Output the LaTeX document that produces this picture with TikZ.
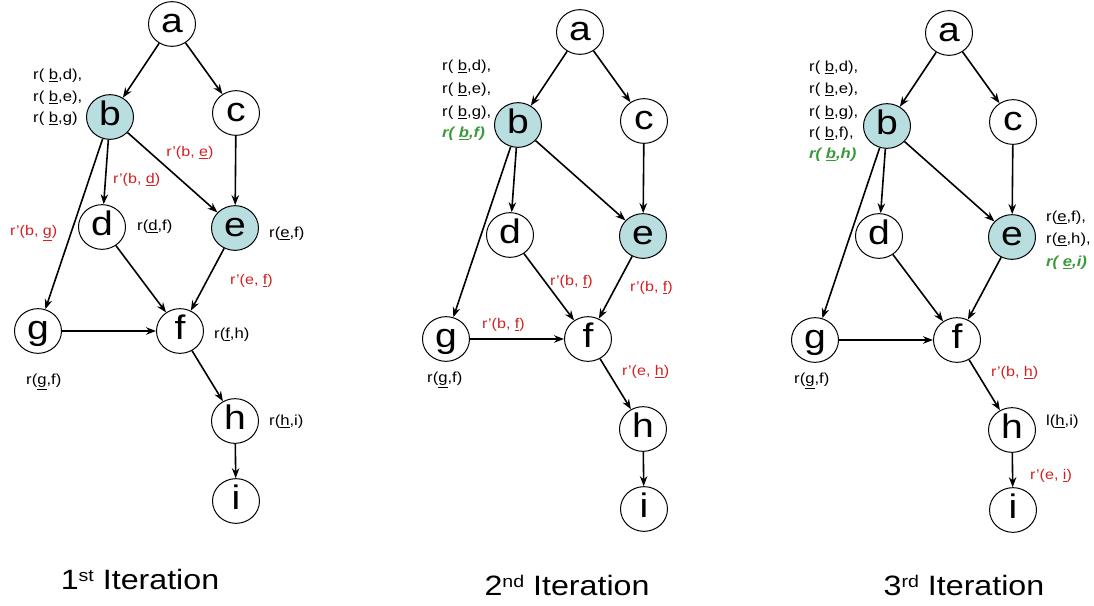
\documentclass[tikz,border=0pt]{standalone}
\usepackage{fontspec}
\setmainfont[FakeStretch=1.15]{Liberation Sans}
\usetikzlibrary{shapes.geometric,arrows.meta}
\definecolor{nodeblue}{RGB}{185,222,224}
\definecolor{labred}{RGB}{212,32,32}
\definecolor{labgreen}{RGB}{58,154,58}
\begin{document}
\begin{tikzpicture}[x=1pt,y=-1pt,
  vtx/.style={draw,ellipse,line width=1pt,minimum width=47pt,minimum height=38pt,inner sep=0pt,
    text height=24.5pt,text depth=7.1pt,font=\fontsize{34}{34}\selectfont},
  hit/.style={vtx,fill=nodeblue},
  edge/.style={line width=1.6pt,-{Stealth[length=10pt,width=7.5pt]}},
  lbl/.style={anchor=west,inner sep=0pt,font=\fontsize{14.5}{14.5}\selectfont},
  newlbl/.style={lbl,text=labred,font=\fontsize{14}{14}\selectfont},
  addlbl/.style={lbl,text=labgreen,font=\fontsize{14.5}{14.5}\selectfont\bfseries\itshape},
  iter/.style={inner sep=0pt,font=\fontsize{28}{28}\selectfont}]
\useasboundingbox (0,0) rectangle (1094,605);
% the same graph, three times
\foreach \n/\dx/\dy in {1/0/0,2/408/8,3/777/9} {
\begin{scope}[shift={(\dx,\dy)}]
\node[vtx] (a\n) at (172,24) {a};
\node[hit] (b\n) at (110,117) {b};
\node[vtx] (c\n) at (236,113) {c};
\node[vtx] (d\n) at (102,227) {d};
\node[hit] (e\n) at (235,228) {e};
\node[vtx] (f\n) at (180,331) {f};
\node[vtx] (g\n) at (38,331) {g};
\node[vtx] (h\n) at (235,421) {h};
\node[vtx] (i\n) at (236,501) {i};
\foreach \s/\t in {a/b,a/c,b/d,b/e,b/g,c/e,d/f,e/f,g/f,f/h,h/i}
  \draw[edge] (\s\n) -- (\t\n);
\end{scope}
}
% 1st iteration
\node[lbl] (l1bd) at (33,76) {r( \underline{b},d),};
\node[lbl] (l1be) at (33,98) {r( \underline{b},e),};
\node[lbl] (l1bg) at (33,119) {r( \underline{b},g)};
\node[newlbl,anchor=center] (n1be) at (190,153) {r’(b, \underline{e})};
\node[newlbl] (n1bd) at (113,180) {r’(b, \underline{d})};
\node[newlbl] (n1bg) at (10,233) {r’(b, \underline{g})};
\node[lbl] (l1df) at (137,227) {r(\underline{d},f)};
\node[lbl] (l1ef) at (269,234) {r(\underline{e},f)};
\node[newlbl] (n1ef) at (230,281) {r’(e, \underline{f})};
\node[lbl] (l1fh) at (214,335) {r(\underline{f},h)};
\node[lbl] (l1gf) at (26,382) {r(\underline{g},f)};
\node[lbl] (l1hi) at (269,422) {r(\underline{h},i)};
\node[iter] (t1) at (140,579) {1\raisebox{8pt}{\fontsize{17}{17}\selectfont st} Iteration};
% 2nd iteration
\node[lbl] (l2bd) at (442,67) {r( \underline{b},d),};
\node[lbl] (l2be) at (442,90) {r( \underline{b},e),};
\node[lbl] (l2bg) at (442,113) {r( \underline{b},g),};
\node[addlbl] (a2bf) at (442,134) {r( \underline{b},f)};
\node[newlbl] (n2df) at (550,282) {r’(b, \underline{f})};
\node[newlbl] (n2ef) at (630,288) {r’(b, \underline{f})};
\node[newlbl] (n2gf) at (482,325) {r’(b, \underline{f})};
\node[lbl] (l2gf) at (427,380) {r(\underline{g},f)};
\node[newlbl] (n2eh) at (622,372) {r’(e, \underline{h})};
\node[iter] (t2) at (567,585) {2\raisebox{8pt}{\fontsize{17}{17}\selectfont nd} Iteration};
% 3rd iteration
\node[lbl] (l3bd) at (809,68) {r( \underline{b},d),};
\node[lbl] (l3be) at (809,90) {r( \underline{b},e),};
\node[lbl] (l3bg) at (809,113) {r( \underline{b},g),};
\node[lbl] (l3bf) at (809,134) {r( \underline{b},f),};
\node[addlbl] (a3bh) at (809,155) {r( \underline{b},h)};
\node[lbl] (l3ef) at (1046,218) {r(\underline{e},f),};
\node[lbl] (l3eh) at (1046,240) {r(\underline{e},h),};
\node[addlbl] (a3ei) at (1046,263) {r( \underline{e},i)};
\node[lbl] (l3gf) at (794,381) {r(\underline{g},f)};
\node[newlbl] (n3bh) at (991,373) {r’(b, \underline{h})};
\node[lbl] (l3hi) at (1046,422) {l(\underline{h},i)};
\node[newlbl] (n3ei) at (1030,476) {r’(e, \underline{i})};
\node[iter] (t3) at (964,585) {3\raisebox{8pt}{\fontsize{17}{17}\selectfont rd} Iteration};
\end{tikzpicture}
\end{document}
